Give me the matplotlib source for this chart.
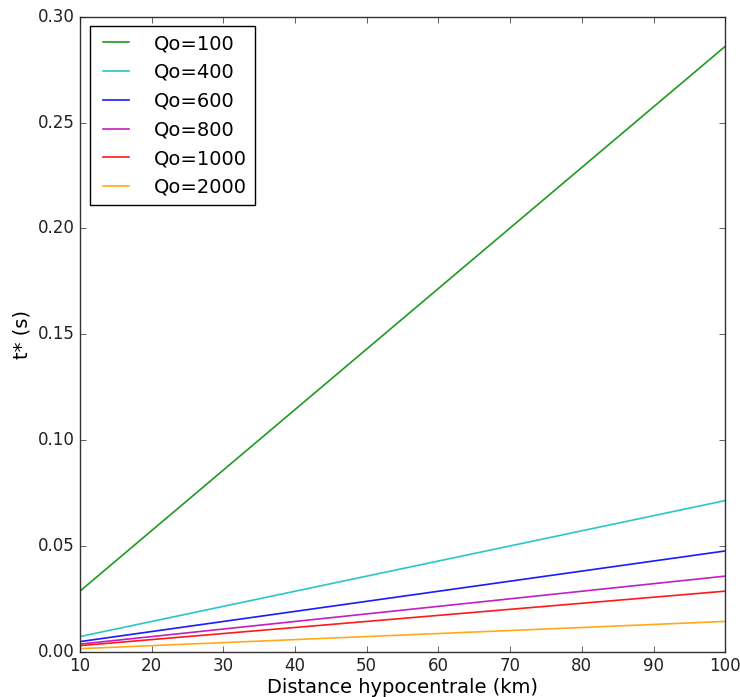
import matplotlib
matplotlib.use("Agg")
import matplotlib.pyplot as plt

plt.style.use("classic")

# hypocentral distance (km), end points of each straight line
distance = [10, 100]

# t* (s) at 10 km and 100 km
t_q100 = [0.0286, 0.286]
t_q400 = [0.00714, 0.0714]
t_q600 = [0.00476, 0.0476]
t_q800 = [0.00357, 0.0357]
t_q1000 = [0.00286, 0.0286]
t_q2000 = [0.00143, 0.0143]

labels = ["Qo=100", "Qo=400", "Qo=600", "Qo=800", "Qo=1000", "Qo=2000"]
series = [t_q100, t_q400, t_q600, t_q800, t_q1000, t_q2000]
colors = ["#1f9a1f", "#2ac6c6", "#1a1aff", "#c21ec2", "#ff1a1a", "#ffaa1a"]

fig = plt.figure(figsize=(7.4, 6.97), dpi=100, facecolor="white")
ax = fig.add_axes([0.108, 0.065, 0.872, 0.911])

for vals, lab, col in zip(series, labels, colors):
    ax.plot(distance, vals, color=col, lw=1.2, label=lab)

ax.set_xlim(10, 100)
ax.set_ylim(0, 0.30)
ax.set_xticks(range(10, 101, 10))
ax.set_yticks([0.0, 0.05, 0.10, 0.15, 0.20, 0.25, 0.30])
ax.set_yticklabels(["0.00", "0.05", "0.10", "0.15", "0.20", "0.25", "0.30"])
ax.tick_params(labelsize=12, colors="#222222")
for s in ax.spines.values():
    s.set_color("#333333")

ax.set_xlabel("Distance hypocentrale (km)", fontsize=14, labelpad=2)
ax.set_ylabel("t* (s)", fontsize=14, labelpad=4)

leg = ax.legend(loc="upper left", fontsize=14, handlelength=1.9,
                handletextpad=1.0, labelspacing=0.5, borderpad=0.4)
leg.get_frame().set_edgecolor("black")

fig.savefig("out.png", dpi=100, facecolor="white")
